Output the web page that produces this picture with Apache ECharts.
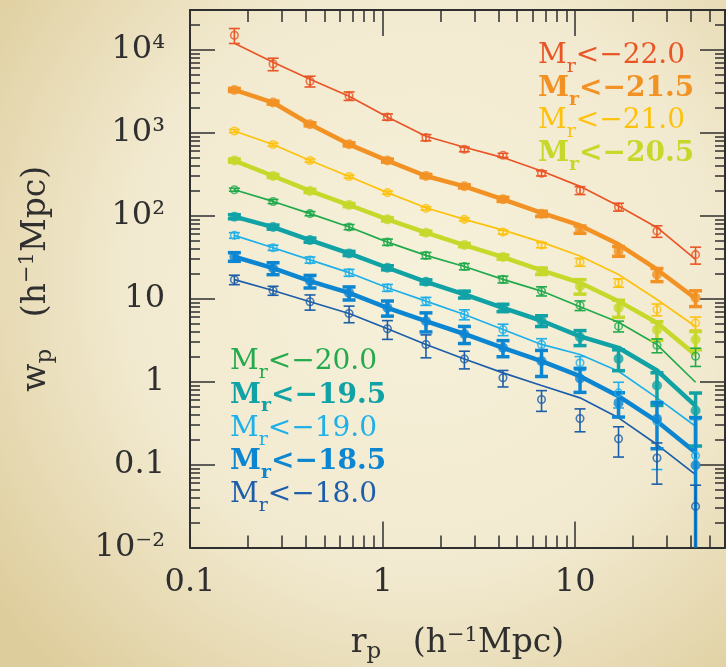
<!DOCTYPE html>
<html>
<head>
<meta charset="utf-8">
<script src="https://cdn.jsdelivr.net/npm/echarts@6/dist/echarts.min.js"></script>
<style>
  html, body { margin: 0; padding: 0; width: 726px; height: 667px; overflow: hidden; }
  #chart { width: 726px; height: 667px; }
</style>
</head>
<body>
<div id="chart"></div>
<script>
// Projected separation bins r_p (h^-1 Mpc)
const RP = [0.17, 0.27, 0.42, 0.67, 1.06, 1.68, 2.66, 4.22, 6.69, 10.6, 16.8, 26.6, 42.2];

// Luminosity thresholds, brightest first
const THRESHOLDS = ['−22.0', '−21.5', '−21.0', '−20.5', '−20.0', '−19.5', '−19.0', '−18.5', '−18.0'];

// Measured w_p(r_p), 1-sigma errors, and best-fit model curve for each sample
const WP_220  = [14900, 6720, 4160, 2763, 1543, 870, 629, 532, 323, 201, 127, 65, 33.8];
const SIG_220 = [3050, 1156, 616, 323, 133, 75, 41.5, 30, 23, 22, 13.8, 10.3, 7.8];
const FIT_220 = [11900, 7050, 4390, 2740, 1543, 902, 665, 500, 344, 225, 130, 72, 29.6];

const WP_215  = [3266, 2300, 1259, 722, 460, 300, 225, 157, 105, 68, 37.3, 19.5, 10.2];
const SIG_215 = [139, 98, 54, 31, 20, 13, 9.6, 9, 7.6, 6.9, 5, 3.5, 2.2];
const FIT_215 = [3266, 2300, 1259, 722, 460, 300, 225, 157, 108, 76, 45, 22.4, 10.0];

const WP_210  = [1045, 717, 460, 295, 189, 122, 90, 63.2, 44.1, 27.5, 15.5, 7.39, 5.08];
const SIG_210 = [44, 30, 20, 12.5, 8, 5.2, 3.8, 3.6, 3.2, 3.0, 1.8, 1.2, 0.9];
const FIT_210 = [1045, 717, 460, 295, 189, 124, 90, 66.8, 47.9, 32.5, 19.5, 9.75, 4.6];

const WP_205  = [460, 300, 198, 134, 90, 62.2, 44.1, 31.6, 21.4, 14.1, 7.74, 4.2, 3.21];
const SIG_205 = [19.5, 12.7, 8.4, 5.7, 3.8, 2.6, 1.9, 1.8, 1.9, 2.8, 1.8, 1.05, 0.8];
const FIT_205 = [460, 300, 198, 134, 90, 62.2, 44.1, 31.6, 21.8, 15.5, 9.3, 5.1, 2.09];

const WP_200  = [205, 148, 105.5, 72.7, 47.9, 33.1, 24.3, 17.0, 12.3, 8.26, 4.65, 2.74, 2.02];
const SIG_200 = [8.7, 8.4, 6.0, 5.2, 4.2, 2.9, 2.1, 1.6, 1.56, 1.1, 0.69, 0.52, 0.5];
const FIT_200 = [205, 148, 105.5, 72.7, 47.9, 33.1, 24.3, 17.0, 12.3, 7.96, 5.19, 2.79, 0.98];

const WP_195  = [97, 72.7, 50.6, 35, 23.5, 15.9, 11.2, 7.74, 5.4, 3.41, 1.88, 0.895, 0.447];
const SIG_195 = [5.5, 4.1, 2.9, 2.0, 1.34, 0.9, 1.07, 0.79, 0.8, 0.7, 0.53, 0.38, 0.28];
const FIT_195 = [97, 72.7, 50.6, 35, 23.5, 15.9, 11.2, 7.74, 5.4, 3.5, 2.55, 1.36, 0.51];

const WP_190  = [57.7, 41, 29.2, 20.5, 13.5, 9.3, 6.43, 4.24, 2.8, 1.68, 0.73, 0.332, 0.128];
const SIG_190 = [4.5, 2.95, 2.5, 1.97, 1.3, 1.03, 0.89, 0.67, 0.48, 0.32, 0.25, 0.245, 0.22];
const FIT_190 = [57.7, 41, 29.2, 20.5, 13.5, 9.3, 6.43, 4.24, 2.8, 2.12, 1.33, 0.636, 0.289];

const WP_185  = [31.9, 23.2, 16.2, 11.7, 7.74, 5.34, 3.74, 2.55, 1.76, 1.09, 0.553, 0.355, 0.098];
const SIG_185 = [3.8, 3.8, 2.8, 2.1, 1.6, 1.38, 0.87, 0.56, 0.61, 0.35, 0.18, 0.2, 0.27];
const FIT_185 = [31.9, 23.2, 16.2, 11.7, 7.74, 5.34, 3.74, 2.55, 1.76, 1.16, 0.665, 0.332, 0.14];

const WP_180  = [16.9, 12.5, 9.15, 6.61, 4.32, 2.79, 1.87, 1.11, 0.607, 0.358, 0.204, 0.12, 0.0313];
const SIG_180 = [2.2, 1.55, 1.9, 1.5, 1.1, 0.86, 0.45, 0.25, 0.17, 0.11, 0.081, 0.062, 0.025];
const FIT_180 = [16.9, 12.5, 9.15, 6.61, 4.32, 2.79, 1.87, 1.27, 0.895, 0.636, 0.365, 0.174, 0.0755];

// Axis ticks and their labels
const X_LABEL_VALUES = [0.1, 1, 10];
const X_LABELS = ['0.1', '1', '10'];
const X_MAJOR = [1, 10];
const Y_LABEL_VALUES = [0.01, 0.1, 1, 10, 100, 1000, 10000];
const Y_LABELS = ['10⁻²', '0.1', '1', '10', '10²', '10³', '10⁴'];
const Y_MAJOR = [0.1, 1, 10, 100, 1000, 10000];

const X_MIN = 0.1, X_MAX = 60;
const Y_MIN = 0.01, Y_MAX = 30000;

// ---- styling ----
const FONT = 'DejaVu Serif';
const INK = '#2f2f2f';
const COLORS = ['#ea5526', '#f39224', '#fcc20e', '#c6d82a', '#22aa4c', '#11a2a6', '#1fb0ea', '#0d86d2', '#1c5ea9'];
const BOLD = [false, true, false, true, false, true, false, true, false];

const samples = [
  [WP_220, SIG_220, FIT_220], [WP_215, SIG_215, FIT_215], [WP_210, SIG_210, FIT_210],
  [WP_205, SIG_205, FIT_205], [WP_200, SIG_200, FIT_200], [WP_195, SIG_195, FIT_195],
  [WP_190, SIG_190, FIT_190], [WP_185, SIG_185, FIT_185], [WP_180, SIG_180, FIT_180]
].map(([wp, sig, fit], i) => ({
  label: THRESHOLDS[i], wp, sig, fit, color: COLORS[i], bold: BOLD[i]
}));

// minor log ticks (2..9 of each decade)
function minorTicks(lo, hi) {
  const out = [];
  for (let d = lo; d < hi; d *= 10) {
    for (let k = 2; k <= 9; k++) {
      const v = +(d * k).toPrecision(6);
      if (v > lo && v < hi) out.push(v);
    }
  }
  return out;
}
const X_ALL = X_MAJOR.concat(minorTicks(X_MIN, X_MAX));
const Y_ALL = Y_MAJOR.concat(minorTicks(Y_MIN, Y_MAX));

function nearestLabel(values, labels, v) {
  let best = 0, bd = Infinity;
  values.forEach((x, i) => {
    const d = Math.abs(Math.log10(x) - Math.log10(v));
    if (d < bd) { bd = d; best = i; }
  });
  return labels[best];
}

const labelText = { fontFamily: FONT, fontSize: 32, color: INK };

function xAxis(position, ticks, len, showLine, showLabels, extra) {
  return Object.assign({
    type: 'log', logBase: 10, min: X_MIN, max: X_MAX, position,
    splitLine: { show: false },
    axisLine: { show: showLine, onZero: false, lineStyle: { color: INK, width: 2 } },
    axisTick: { show: true, inside: true, length: len, customValues: ticks, lineStyle: { color: INK, width: 1.5 } },
    axisLabel: Object.assign({
      show: showLabels, customValues: X_LABEL_VALUES, margin: 19,
      formatter: v => nearestLabel(X_LABEL_VALUES, X_LABELS, v)
    }, labelText)
  }, extra || {});
}
function yAxis(position, ticks, len, showLine, showLabels, extra) {
  return Object.assign({
    type: 'log', logBase: 10, min: Y_MIN, max: Y_MAX, position,
    splitLine: { show: false },
    axisLine: { show: showLine, onZero: false, lineStyle: { color: INK, width: 2 } },
    axisTick: { show: true, inside: true, length: len, customValues: ticks, lineStyle: { color: INK, width: 1.5 } },
    axisLabel: Object.assign({
      show: showLabels, customValues: Y_LABEL_VALUES, margin: 25,
      formatter: v => nearestLabel(Y_LABEL_VALUES, Y_LABELS, v)
    }, labelText)
  }, extra || {});
}

const titleRich = {
  a: { fontFamily: FONT, fontSize: 33, color: INK, lineHeight: 44 },
  s: { fontFamily: FONT, fontSize: 23, color: INK, lineHeight: 22, padding: [18, 0, 0, 0] },
  u: { fontFamily: FONT, fontSize: 21, color: INK, lineHeight: 20, padding: [0, 0, 16, 0] }
};

const series = [];
samples.forEach(s => {
  const lw = s.bold ? 4.5 : 1.7;
  series.push({
    type: 'line', name: s.label, xAxisIndex: 0, yAxisIndex: 0,
    data: RP.map((r, i) => [r, s.fit[i]]),
    symbol: 'none', showSymbol: false, silent: true, z: 2,
    lineStyle: { color: s.color, width: lw }
  });
  const barW = s.bold ? 3.5 : 1.6;
  const capHalf = s.bold ? 6.5 : 5.5;
  series.push({
    type: 'custom', xAxisIndex: 0, yAxisIndex: 0, silent: true, z: 3,
    data: RP.map((r, i) => [r, Math.max(s.wp[i] - s.sig[i], Y_MIN), s.wp[i] + s.sig[i]]),
    encode: { x: 0, y: [1, 2] },
    renderItem: (params, api) => {
      const x = api.value(0), lo = api.value(1), hi = api.value(2);
      const a = api.coord([x, lo]);
      const b = api.coord([x, hi]);
      const st = { stroke: s.color, lineWidth: barW };
      const children = [
        { type: 'line', shape: { x1: a[0], y1: a[1], x2: b[0], y2: b[1] }, style: st },
        { type: 'line', shape: { x1: b[0] - capHalf, y1: b[1], x2: b[0] + capHalf, y2: b[1] }, style: st }
      ];
      if (lo > Y_MIN) {
        children.push({ type: 'line', shape: { x1: a[0] - capHalf, y1: a[1], x2: a[0] + capHalf, y2: a[1] }, style: st });
      }
      return { type: 'group', children };
    }
  });
  series.push({
    type: 'scatter', xAxisIndex: 0, yAxisIndex: 0, silent: true, z: 4,
    data: RP.map((r, i) => [r, s.wp[i]]),
    symbol: 'circle', symbolSize: s.bold ? 10 : 7.5,
    itemStyle: s.bold
      ? { color: s.color }
      : { color: 'transparent', borderColor: s.color, borderWidth: 1.6 }
  });
});

function legendLabel(s, x, y) {
  const w = s.bold ? 'bold' : 'normal';
  const base = { fontFamily: FONT, fontWeight: w, fill: s.color };
  return {
    type: 'text', x, y, z: 100, silent: true,
    style: {
      text: '{m|M}{r|r}{t|<' + s.label + '}',
      align: 'left', verticalAlign: 'middle',
      rich: {
        m: Object.assign({ fontSize: 28, lineHeight: 46 }, base),
        r: Object.assign({ fontSize: 19, lineHeight: 19, padding: [22, 0, 0, 0] }, base),
        t: Object.assign({ fontSize: 28, lineHeight: 46 }, base)
      }
    }
  };
}

const graphics = [];
samples.slice(0, 4).forEach((s, i) => graphics.push(legendLabel(s, 538, 56 + i * 32.6)));
samples.slice(4).forEach((s, i) => graphics.push(legendLabel(s, 230, 362 + i * 33.3)));

const option = {
  animation: false,
  textStyle: { fontFamily: FONT },
  backgroundColor: {
    type: 'radial', x: 0.58, y: 0.42, r: 0.8,
    colorStops: [
      { offset: 0, color: '#f6f1da' },
      { offset: 0.55, color: '#f2ead0' },
      { offset: 1, color: '#decd9c' }
    ]
  },
  grid: { left: 190, right: 1, top: 10, bottom: 119.5, containLabel: false, outerBoundsMode: 'none' },
  xAxis: [
    xAxis('bottom', X_ALL, 12, true, true, {
      name: '{a|r}{s|p}{a|   (h}{u|−1}{a|Mpc)}',
      nameLocation: 'middle', nameGap: 74,
      nameTextStyle: { fontFamily: FONT, fontSize: 33, color: INK, rich: titleRich }
    }),
    xAxis('bottom', X_MAJOR, 26, false, false),
    xAxis('top', X_ALL, 12, true, false),
    xAxis('top', X_MAJOR, 26, false, false)
  ],
  yAxis: [
    yAxis('left', Y_ALL, 10, true, true, {
      name: '{a|w}{s|p}{a|   (h}{u|−1}{a|Mpc)}',
      nameLocation: 'middle', nameGap: 132, nameRotate: 90,
      nameTextStyle: { fontFamily: FONT, fontSize: 33, color: INK, rich: titleRich }
    }),
    yAxis('left', Y_MAJOR, 25, false, false),
    yAxis('right', Y_ALL, 10, true, false),
    yAxis('right', Y_MAJOR, 25, false, false)
  ],
  series,
  graphic: graphics
};

const chart = echarts.init(document.getElementById('chart'), null, { renderer: 'canvas' });
chart.setOption(option);
</script>
</body>
</html>
